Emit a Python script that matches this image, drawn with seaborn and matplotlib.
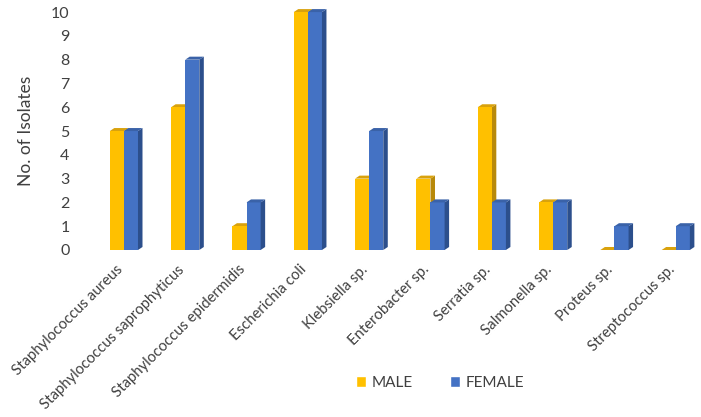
import matplotlib
matplotlib.use("Agg")
import matplotlib.pyplot as plt
from matplotlib.patches import Polygon, Patch
from matplotlib.transforms import ScaledTranslation
import seaborn as sns
import pandas as pd

organisms = [
    "Staphylococcus aureus",
    "Staphylococcus saprophyticus",
    "Staphylococcus epidermidis",
    "Escherichia coli",
    "Klebsiella sp.",
    "Enterobacter sp.",
    "Serratia sp.",
    "Salmonella sp.",
    "Proteus sp.",
    "Streptococcus sp.",
]
male = [5, 6, 1, 10, 3, 3, 6, 2, 0, 0]
female = [5, 8, 2, 10, 5, 2, 2, 2, 1, 1]
groups = ["MALE", "FEMALE"]

colors = {"MALE": "#FFC000", "FEMALE": "#4472C4"}
side_colors = {"MALE": "#B8890A", "FEMALE": "#2C4F8C"}
top_colors = {"MALE": "#D9A20C", "FEMALE": "#3A62A8"}

df = pd.DataFrame({
    "organism": organisms * 2,
    "sex": ["MALE"] * len(organisms) + ["FEMALE"] * len(organisms),
    "count": male + female,
})

sns.set_style("white")
plt.rcParams["font.family"] = ["Lato", "DejaVu Sans"]

fig = plt.figure(figsize=(7.01, 4.17), dpi=100)
ax = fig.add_axes([0.133, 0.4005, 0.866, 0.5705])

sns.barplot(data=df, x="organism", y="count", hue="sex", order=organisms,
            hue_order=groups, palette=colors, width=0.46, saturation=1,
            ax=ax, legend=False, edgecolor="none", zorder=3)

ax.set_xlim(-0.5, 9.4)
ax.set_ylim(0, 10)

# fake 3D depth: side and top faces, male faces tucked behind the female bar
fig.canvas.draw()
bbox = ax.get_window_extent()
px_x = bbox.width / (9.4 + 0.5)
px_y = bbox.height / 10
dx = 4.5 / px_x
dy = 3.0 / px_y
face_z = {"MALE": 2, "FEMALE": 4}
for i, container in enumerate(ax.containers):
    g = groups[i]
    for p in container.patches:
        x0 = p.get_x()
        x1 = x0 + p.get_width()
        h = p.get_height()
        side = Polygon([(x1, 0), (x1 + dx, dy), (x1 + dx, h + dy), (x1, h)],
                       closed=True, facecolor=side_colors[g], edgecolor="none",
                       clip_on=False, zorder=face_z[g])
        top = Polygon([(x0, h), (x0 + dx, h + dy), (x1 + dx, h + dy), (x1, h)],
                      closed=True, facecolor=top_colors[g], edgecolor="none",
                      clip_on=False, zorder=face_z[g])
        ax.add_patch(side)
        ax.add_patch(top)

for s in ax.spines.values():
    s.set_visible(False)

ax.set_yticks(range(0, 11))
ax.tick_params(axis="y", labelsize=11.5, labelcolor="#404040", length=0, pad=17)
ax.tick_params(axis="x", length=0, pad=4)
ax.set_xticks(range(len(organisms)))
ax.set_xticklabels(organisms, rotation=45, ha="right", rotation_mode="anchor",
                   fontsize=10.7, color="#404040")
shift = ScaledTranslation(-6 / 72, -5 / 72, fig.dpi_scale_trans)
for lbl in ax.get_xticklabels():
    lbl.set_transform(lbl.get_transform() + shift)
ax.set_xlabel("")
ax.set_ylabel("No. of Isolates", fontsize=12.5, color="#404040", labelpad=12)

handles = [Patch(facecolor=colors[g], label=g) for g in groups]
fig.legend(handles=handles, loc="center", bbox_to_anchor=(0.628, 0.082),
           ncol=2, frameon=False, fontsize=11, handlelength=0.65,
           handleheight=0.65, columnspacing=2.4, handletextpad=0.4,
           labelcolor="#404040")

fig.savefig("out.png", dpi=100)
